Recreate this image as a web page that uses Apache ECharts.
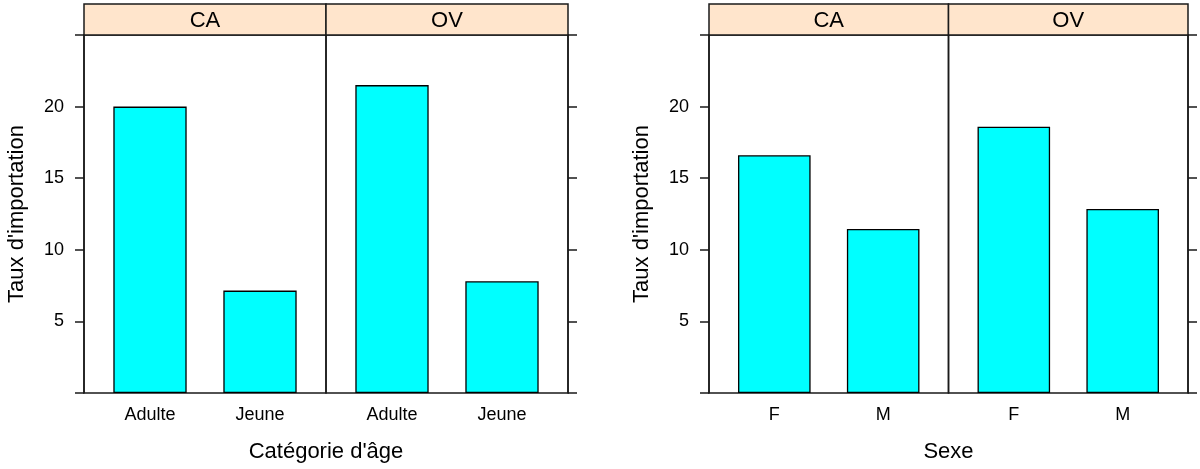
<!DOCTYPE html>
<html>
<head>
<meta charset="utf-8">
<script src="https://cdn.jsdelivr.net/npm/echarts@6/dist/echarts.min.js"></script>
<style>
html,body{margin:0;padding:0;background:#fff;}
#chart{width:1200px;height:469px;}
</style>
</head>
<body>
<div id="chart"></div>
<script>
// ---- data ----
const panels = ['CA', 'OV'];
const ageCategories = ['Adulte', 'Jeune'];
const sexCategories = ['F', 'M'];
const ageCA = [20.0, 7.15];
const ageOV = [21.5, 7.8];
const sexCA = [16.6, 11.45];
const sexOV = [18.6, 12.85];
const yLabelValues = [5, 10, 15, 20];
const yTitle = "Taux d'importation";
const xTitles = ["Catégorie d'âge", 'Sexe'];

// ---- layout ----
const FONT = 'Liberation Sans';
const TOP = 35, BOTTOM = 393;
const STRIP_TOP = 4;
const LINE = '#1a1a1a';
const charts = [
  { left: 84, right: 568, cats: ageCategories, values: [ageCA, ageOV], title: xTitles[0] },
  { left: 709, right: 1188, cats: sexCategories, values: [sexCA, sexOV], title: xTitles[1] }
];

const grid = [], xAxis = [], yAxis = [], series = [], graphic = [];
let gi = 0;
charts.forEach((c, ci) => {
  const w = (c.right - c.left) / 2;
  const unit = w / 2.2;
  panels.forEach((p, pi) => {
    const gl = c.left + pi * w;
    grid.push({
      left: gl, top: TOP, width: w, height: BOTTOM - TOP,
      show: true, borderColor: LINE, borderWidth: 1.5, backgroundColor: 'transparent'
    });
    xAxis.push({
      type: 'value', gridIndex: gi, min: 0.4, max: 2.6,
      axisLine: { show: false }, axisTick: { show: false }, splitLine: { show: false },
      axisLabel: {
        customValues: [1, 2], margin: 13,
        formatter: v => c.cats[Math.round(v) - 1] || '',
        fontFamily: FONT, fontSize: 18, color: '#000'
      }
    });
    const isLeft = pi === 0;
    yAxis.push({
      type: 'value', gridIndex: gi, min: 0, max: 25, interval: 5,
      position: isLeft ? 'left' : 'right',
      axisLine: { show: true, lineStyle: { color: LINE, width: 1.5 } },
      axisTick: { show: true, inside: false, length: 9, lineStyle: { color: LINE, width: 1.5 } },
      splitLine: { show: false },
      axisLabel: {
        show: isLeft, margin: 20, fontFamily: FONT, fontSize: 18, color: '#000',
        formatter: v => (yLabelValues.indexOf(v) >= 0 ? String(v) : '')
      },
      name: isLeft ? yTitle : '',
      nameLocation: 'middle', nameGap: 56, nameRotate: 90,
      nameTextStyle: { fontFamily: FONT, fontSize: 22, color: '#000' }
    });
    series.push({
      type: 'bar', xAxisIndex: gi, yAxisIndex: gi,
      data: c.values[pi].map((v, i) => [i + 1, v]),
      barWidth: unit * 2 / 3,
      itemStyle: { color: '#00ffff', borderColor: '#000', borderWidth: 1.3 },
      animation: false, silent: true
    });
    graphic.push({
      type: 'rect', z: 10,
      shape: { x: gl, y: STRIP_TOP, width: w, height: TOP - STRIP_TOP },
      style: { fill: '#ffe5cc', stroke: LINE, lineWidth: 1.5 }
    });
    graphic.push({
      type: 'text', z: 11, x: gl + w / 2, y: (STRIP_TOP + TOP) / 2 + 1,
      style: { text: p, fontFamily: FONT, fontSize: 22, fill: '#000', align: 'center', verticalAlign: 'middle' }
    });
    gi++;
  });
  graphic.push({
    type: 'text', x: (c.left + c.right) / 2, y: 452,
    style: { text: c.title, fontFamily: FONT, fontSize: 22, fill: '#000', align: 'center', verticalAlign: 'middle' }
  });
});

const chart = echarts.init(document.getElementById('chart'), null, { renderer: 'canvas' });
chart.setOption({
  animation: false,
  backgroundColor: '#fff',
  grid, xAxis, yAxis, series, graphic
});
</script>
</body>
</html>
